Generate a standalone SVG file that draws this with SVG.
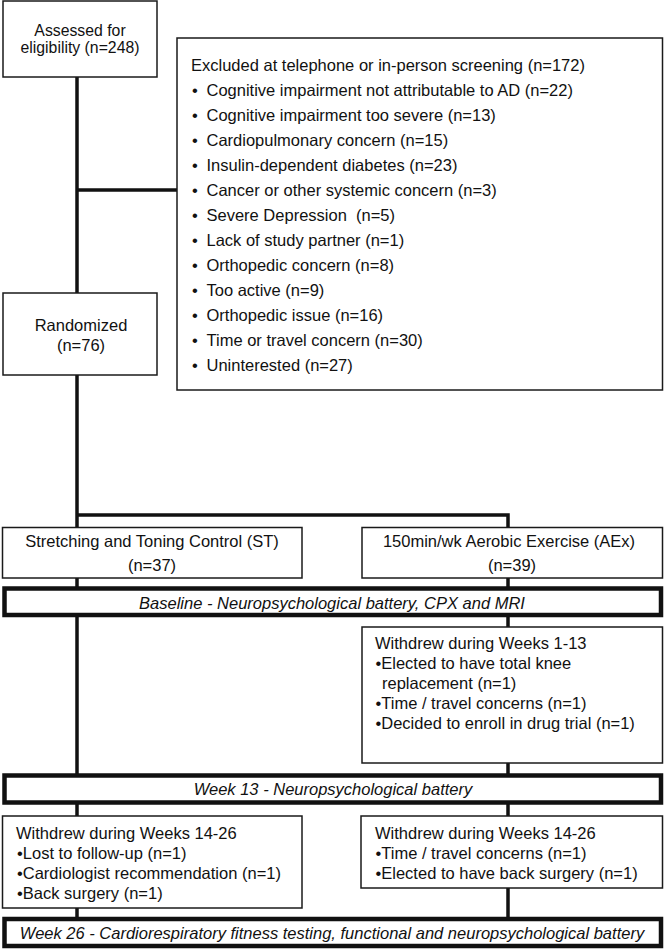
<svg xmlns="http://www.w3.org/2000/svg" width="664" height="950" viewBox="0 0 664 950">
<style>
text{font-family:"Liberation Sans",Arial,sans-serif;font-size:16.5px;fill:#111}
.c{text-anchor:middle}
.i{font-style:italic}
.sm{font-size:15.8px}
.box{fill:#fff;stroke:#1a1a1a;stroke-width:1.5}
.thick{fill:#fff;stroke:#111;stroke-width:4.5}
.ln{stroke:#111;stroke-width:3.5;fill:none}
</style>
<rect width="664" height="950" fill="#fff"/>
<g id="connectors">
<line class="ln" x1="77" y1="77" x2="77" y2="293"/>
<line class="ln" x1="77" y1="190" x2="177" y2="190"/>
<line class="ln" x1="77" y1="375" x2="77" y2="527"/>
<polyline class="ln" points="77,515 508,515 508,527"/>
<line class="ln" x1="77" y1="578" x2="77" y2="587"/>
<line class="ln" x1="508" y1="578" x2="508" y2="587"/>
<line class="ln" x1="77" y1="616" x2="77" y2="774"/>
<line class="ln" x1="508" y1="616" x2="508" y2="627"/>
<line class="ln" x1="508" y1="763" x2="508" y2="774"/>
<line class="ln" x1="77" y1="804" x2="77" y2="816"/>
<line class="ln" x1="508" y1="804" x2="508" y2="816"/>
<line class="ln" x1="77" y1="908" x2="77" y2="918"/>
<line class="ln" x1="508" y1="888" x2="508" y2="918"/>
</g>
<g id="assessed">
<rect class="box" x="3" y="1" width="154" height="76"/>
<text class="c sm" x="80" y="35.5">Assessed for</text>
<text class="c sm" x="80" y="53">eligibility (n=248)</text>
</g>
<g id="excluded">
<rect class="box" x="177" y="38" width="485.5" height="352"/>
<text x="191" y="71">Excluded at telephone or in-person screening (n=172)</text>
<g>
<text x="192" y="96">•</text><text x="206.5" y="96">Cognitive impairment not attributable to AD (n=22)</text>
<text x="192" y="121">•</text><text x="206.5" y="121">Cognitive impairment too severe (n=13)</text>
<text x="192" y="146">•</text><text x="206.5" y="146">Cardiopulmonary concern (n=15)</text>
<text x="192" y="171">•</text><text x="206.5" y="171">Insulin-dependent diabetes (n=23)</text>
<text x="192" y="196">•</text><text x="206.5" y="196">Cancer or other systemic concern (n=3)</text>
<text x="192" y="221">•</text><text x="206.5" y="221" xml:space="preserve">Severe Depression  (n=5)</text>
<text x="192" y="246">•</text><text x="206.5" y="246">Lack of study partner (n=1)</text>
<text x="192" y="271">•</text><text x="206.5" y="271">Orthopedic concern (n=8)</text>
<text x="192" y="296">•</text><text x="206.5" y="296">Too active (n=9)</text>
<text x="192" y="321">•</text><text x="206.5" y="321">Orthopedic issue (n=16)</text>
<text x="192" y="346">•</text><text x="206.5" y="346">Time or travel concern (n=30)</text>
<text x="192" y="371">•</text><text x="206.5" y="371">Uninterested (n=27)</text>
</g>
</g>
<g id="randomized">
<rect class="box" x="3" y="293" width="154" height="82"/>
<text class="c" x="81" y="331">Randomized</text>
<text class="c" x="81" y="351">(n=76)</text>
</g>
<g id="st">
<rect class="box" x="2.5" y="527.5" width="299.5" height="50.5"/>
<text class="c" x="152" y="547">Stretching and Toning Control (ST)</text>
<text class="c" x="152" y="571">(n=37)</text>
</g>
<g id="aex">
<rect class="box" x="362" y="527.5" width="300.5" height="50.5"/>
<text class="c" x="509" y="547">150min/wk Aerobic Exercise (AEx)</text>
<text class="c" x="512" y="571">(n=39)</text>
</g>
<g id="baseline">
<rect class="thick" x="4.5" y="588.5" width="656.5" height="26.5"/>
<text class="c i" x="332" y="609">Baseline - Neuropsychological battery, CPX and MRI</text>
</g>
<g id="withdrew1">
<rect class="box" x="362" y="627" width="300.5" height="136"/>
<text x="375" y="649">Withdrew during Weeks 1-13</text>
<text x="375.5" y="669">•Elected to have total knee</text>
<text x="382" y="689">replacement (n=1)</text>
<text x="375.5" y="709">•Time / travel concerns (n=1)</text>
<text x="375.5" y="729">•Decided to enroll in drug trial (n=1)</text>
</g>
<g id="week13">
<rect class="thick" x="4.5" y="775.5" width="656.5" height="27"/>
<text class="c i" x="333" y="795">Week 13 - Neuropsychological battery</text>
</g>
<g id="withdrew2a">
<rect class="box" x="2.5" y="816" width="299.5" height="92"/>
<text x="16" y="839">Withdrew during Weeks 14-26</text>
<text x="17" y="859">•Lost to follow-up (n=1)</text>
<text x="17" y="879">•Cardiologist recommendation (n=1)</text>
<text x="17" y="899">•Back surgery (n=1)</text>
</g>
<g id="withdrew2b">
<rect class="box" x="361" y="816" width="301.5" height="72"/>
<text x="375" y="839">Withdrew during Weeks 14-26</text>
<text x="375.5" y="859">•Time / travel concerns (n=1)</text>
<text x="375.5" y="879">•Elected to have back surgery (n=1)</text>
</g>
<g id="week26">
<rect class="thick" x="4.5" y="919" width="656.5" height="27"/>
<text class="c i" x="332" y="939">Week 26 - Cardiorespiratory fitness testing, functional and neuropsychological battery</text>
</g>
</svg>
